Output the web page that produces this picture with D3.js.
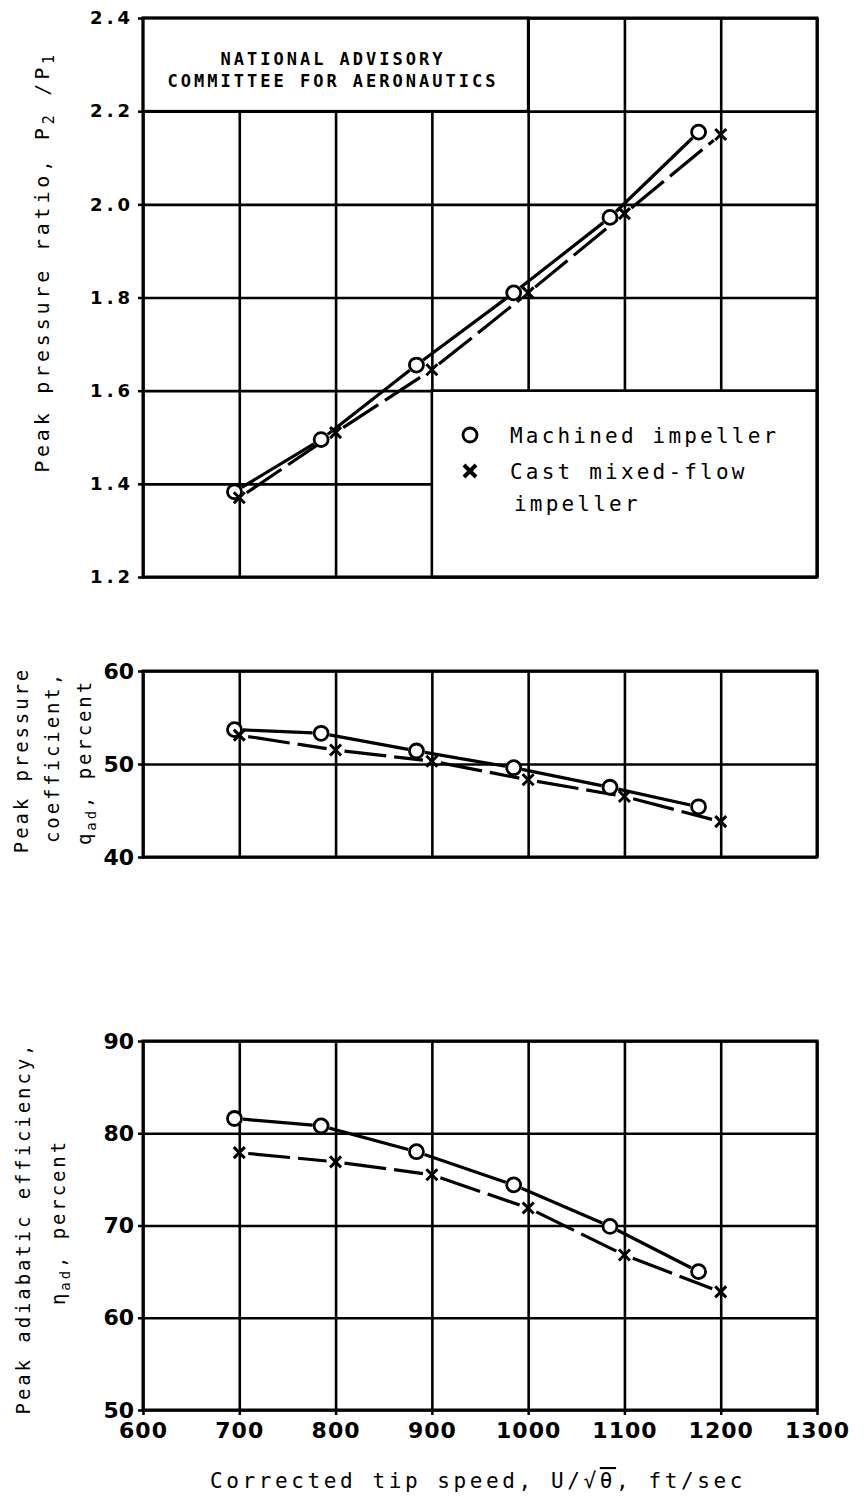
<!DOCTYPE html>
<html>
<head>
<meta charset="utf-8">
<script src="https://cdn.jsdelivr.net/npm/d3@7"></script>
<style>
  body { margin: 0; background: #fff; }
  text { fill: #000; }
</style>
</head>
<body>
<script>
// tip speeds where the points sit (ft/sec)
var speedMachined = [695, 785, 884, 985, 1085, 1177];
var speedCast = [700, 800, 900, 1000, 1100, 1200];

// peak pressure ratio P2/P1
var ratioMachined = [1.383, 1.495, 1.655, 1.81, 1.972, 2.155];
var ratioCast = [1.37, 1.51, 1.645, 1.81, 1.98, 2.15];

// peak pressure coefficient, percent
var coefMachined = [53.7, 53.3, 51.4, 49.6, 47.5, 45.4];
var coefCast = [53.1, 51.5, 50.3, 48.3, 46.5, 43.8];

// peak adiabatic efficiency, percent
var effMachined = [81.6, 80.8, 78.0, 74.4, 69.9, 65.0];
var effCast = [77.9, 76.9, 75.5, 71.9, 66.8, 62.8];

var xTicks = [600, 700, 800, 900, 1000, 1100, 1200, 1300];
var ratioTicks = [1.2, 1.4, 1.6, 1.8, 2.0, 2.2, 2.4];
var coefTicks = [40, 50, 60];
var effTicks = [50, 60, 70, 80, 90];

var width = 864, height = 1497;
var left = 143, right = 817;

var svg = d3.select("body").append("svg")
    .attr("width", width)
    .attr("height", height);

var x = d3.scaleLinear().domain([600, 1300]).range([left, right]);

var panels = [
  { y: d3.scaleLinear().domain([1.2, 2.4]).range([577, 18]), ticks: ratioTicks,
    fmt: d3.format(".1f"), machined: ratioMachined, cast: ratioCast, small: true },
  { y: d3.scaleLinear().domain([40, 60]).range([857, 671]), ticks: coefTicks,
    fmt: d3.format("d"), machined: coefMachined, cast: coefCast },
  { y: d3.scaleLinear().domain([50, 90]).range([1410, 1041]), ticks: effTicks,
    fmt: d3.format("d"), machined: effMachined, cast: effCast }
];

function drawGrid(g, p) {
  var y0 = p.y.range()[0], y1 = p.y.range()[1];

  // vertical grid
  g.append("g")
    .attr("transform", "translate(0," + y0 + ")")
    .call(d3.axisBottom(x).tickValues(xTicks).tickSize(-(y0 - y1)).tickFormat(""))
    .call(function(a) { a.select(".domain").remove(); })
    .selectAll("line").attr("stroke", "#000").attr("stroke-width", 2.6);

  // horizontal grid
  g.append("g")
    .attr("transform", "translate(" + left + ",0)")
    .call(d3.axisLeft(p.y).tickValues(p.ticks).tickSize(-(right - left)).tickFormat(""))
    .call(function(a) { a.select(".domain").remove(); })
    .selectAll("line").attr("stroke", "#000").attr("stroke-width", 2.6);
}

function drawFrame(g, p) {
  var y0 = p.y.range()[0], y1 = p.y.range()[1];
  g.append("rect")
    .attr("x", left).attr("y", y1)
    .attr("width", right - left).attr("height", y0 - y1)
    .attr("fill", "none").attr("stroke", "#000").attr("stroke-width", 3);

  // left tick labels
  var ax = g.append("g")
    .attr("transform", "translate(" + left + ",0)")
    .call(d3.axisLeft(p.y).tickValues(p.ticks).tickSize(5).tickPadding(4).tickFormat(p.fmt));
  ax.select(".domain").remove();
  ax.selectAll("line").attr("stroke", "#000").attr("stroke-width", 2.5);
  ax.selectAll("text")
    .attr("font-family", "DejaVu Sans")
    .attr("font-weight", "bold")
    .attr("font-size", p.small ? 18 : 22)
    .style("letter-spacing", p.small ? "4px" : "0px")
    .attr("fill", "#000");
}

// draw line pieces between markers, leaving a gap at each marker
function drawSeries(g, xs, ys, yScale, gap, dash) {
  for (var i = 0; i < xs.length - 1; i++) {
    var ax = x(xs[i]), ay = yScale(ys[i]);
    var bx = x(xs[i + 1]), by = yScale(ys[i + 1]);
    var len = Math.hypot(bx - ax, by - ay);
    var ux = (bx - ax) / len, uy = (by - ay) / len;
    g.append("line")
      .attr("x1", ax + ux * gap).attr("y1", ay + uy * gap)
      .attr("x2", bx - ux * gap).attr("y2", by - uy * gap)
      .attr("stroke", "#000").attr("stroke-width", 3.2)
      .attr("stroke-dasharray", dash || null);
  }
}

function circleMark(g, cx, cy) {
  g.append("circle").attr("cx", cx).attr("cy", cy).attr("r", 7)
    .attr("fill", "#fff").attr("stroke", "#000").attr("stroke-width", 2.8);
}

function crossMark(g, cx, cy, s, w) {
  g.append("path")
    .attr("d", "M" + (cx - s) + "," + (cy - s) + "L" + (cx + s) + "," + (cy + s) +
               "M" + (cx - s) + "," + (cy + s) + "L" + (cx + s) + "," + (cy - s))
    .attr("stroke", "#000").attr("stroke-width", w).attr("fill", "none");
}

panels.forEach(function(p, i) {
  var g = svg.append("g");
  drawGrid(g, p);

  if (i === 0) {
    // blank box with the NACA stamp
    g.append("rect")
      .attr("x", x(600)).attr("y", p.y(2.4))
      .attr("width", x(1000) - x(600)).attr("height", p.y(2.2) - p.y(2.4))
      .attr("fill", "#fff").attr("stroke", "#000").attr("stroke-width", 2.6);
    // blank box for the legend
    g.append("rect")
      .attr("x", x(900)).attr("y", p.y(1.6))
      .attr("width", x(1300) - x(900)).attr("height", p.y(1.2) - p.y(1.6))
      .attr("fill", "#fff").attr("stroke", "#000").attr("stroke-width", 2.6);
  }

  drawFrame(g, p);

  drawSeries(g, speedMachined, p.machined, p.y, 8.5);
  drawSeries(g, speedCast, p.cast, p.y, 9, "42,8");

  speedMachined.forEach(function(s, k) { circleMark(g, x(s), p.y(p.machined[k])); });
  speedCast.forEach(function(s, k) { crossMark(g, x(s), p.y(p.cast[k]), 5.5, 3); });
});

// bottom x labels
var bottom = panels[2];
var xa = svg.append("g")
  .attr("transform", "translate(0," + bottom.y.range()[0] + ")")
  .call(d3.axisBottom(x).tickValues(xTicks).tickSize(5).tickPadding(7).tickFormat(d3.format("d")));
xa.select(".domain").remove();
xa.selectAll("line").attr("stroke", "#000").attr("stroke-width", 2.5);
xa.selectAll("text")
  .attr("font-family", "DejaVu Sans")
  .attr("font-weight", "bold")
  .attr("font-size", 22)
  .style("letter-spacing", "1px")
  .attr("fill", "#000");

var mono = "DejaVu Sans Mono";

// NACA stamp
var naca = svg.append("text")
  .attr("font-family", mono).attr("font-size", 17).attr("font-weight", "bold")
  .attr("text-anchor", "middle").style("letter-spacing", "3px");
naca.append("tspan").attr("x", 333).attr("y", 65).text("NATIONAL ADVISORY");
naca.append("tspan").attr("x", 333).attr("y", 87).text("COMMITTEE FOR AERONAUTICS");

// legend
var lg = svg.append("g")
  .attr("font-family", mono).attr("font-size", 21)
  .style("letter-spacing", "3.2px");
circleMark(lg, 470, 435);
lg.append("text").attr("x", 510).attr("y", 443).text("Machined impeller");
crossMark(lg, 470, 471, 6, 4);
lg.append("text").attr("x", 510).attr("y", 479).text("Cast mixed-flow");
lg.append("text").attr("x", 514).attr("y", 511).text("impeller");

// axis titles
var t1 = svg.append("text")
  .attr("transform", "translate(49,262)rotate(-90)")
  .attr("text-anchor", "middle")
  .attr("font-family", mono).attr("font-size", 20)
  .style("letter-spacing", "3.8px");
t1.append("tspan").text("Peak pressure ratio, P");
t1.append("tspan").attr("font-size", 15).attr("dy", 5).text("2");
t1.append("tspan").attr("dy", -5).text(" /P");
t1.append("tspan").attr("font-size", 15).attr("dy", 5).text("1");

function titleLine(tx, ty, parts) {
  var t = svg.append("text")
    .attr("transform", "translate(" + tx + "," + ty + ")rotate(-90)")
    .attr("text-anchor", "middle")
    .attr("font-family", mono).attr("font-size", 19)
    .style("letter-spacing", "2.9px");
  parts.forEach(function(pt) {
    var s = t.append("tspan").text(pt[0]);
    if (pt[1]) s.attr("font-size", 14).attr("dy", 5);
    if (pt[2]) s.attr("dy", -5);
  });
}

titleLine(28, 760, [["Peak pressure"]]);
titleLine(59, 757, [["coefficient,"]]);
titleLine(91, 762, [["q"], ["ad", true], [", percent", false, true]]);

titleLine(30, 1228, [["Peak adiabatic efficiency,"]]);
titleLine(65, 1222, [["\u03b7"], ["ad", true], [", percent", false, true]]);

var xt = svg.append("text")
  .attr("x", 478).attr("y", 1488)
  .attr("text-anchor", "middle")
  .attr("font-family", mono).attr("font-size", 21)
  .style("letter-spacing", "3.6px");
xt.append("tspan").text("Corrected tip speed, U/\u221a");
xt.append("tspan").style("text-decoration", "overline").text("\u03b8");
xt.append("tspan").text(", ft/sec");
</script>
</body>
</html>
